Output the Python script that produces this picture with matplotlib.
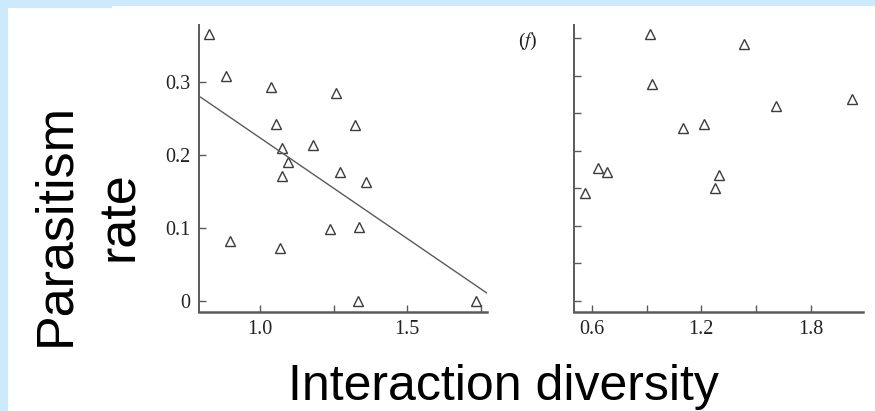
import matplotlib
matplotlib.use("Agg")
import matplotlib.pyplot as plt
from matplotlib.patches import Rectangle
import numpy as np

# panel (e): interaction diversity vs parasitism rate, with linear fit
left_x = [0.828, 0.884, 1.037, 1.259, 1.054, 1.323, 1.179, 1.075, 1.094,
          1.074, 1.272, 1.361, 0.898, 1.068, 1.238, 1.338, 1.333, 1.735]
left_y = [0.366, 0.308, 0.293, 0.285, 0.243, 0.241, 0.214, 0.210, 0.190,
          0.171, 0.177, 0.163, 0.082, 0.072, 0.098, 0.102, 0.000, 0.000]
fit_slope = -0.2755
fit_intercept = 0.499
fit_range = (0.798, 1.771)

# panel (f): no significant trend
right_x = [0.565, 0.636, 0.684, 0.919, 0.930, 1.099, 1.217, 1.277, 1.298,
           1.435, 1.610, 2.025]
right_y = [0.144, 0.177, 0.172, 0.356, 0.289, 0.231, 0.236, 0.151, 0.168,
           0.342, 0.260, 0.269]

left_xticks = [1.0, 1.25, 1.5, 1.75]
left_xticklabels = ["1.0", "", "1.5", ""]
left_yticks = [0.0, 0.1, 0.2, 0.3]
left_yticklabels = ["0", "0.1", "0.2", "0.3"]
right_xticks = [0.6, 0.9, 1.2, 1.5, 1.8]
right_xticklabels = ["0.6", "", "1.2", "", "1.8"]
right_yticks = [0.0, 0.05, 0.10, 0.15, 0.20, 0.25, 0.30, 0.35]

BG_BLUE = "#cdeafc"
AXIS_GRAY = "#5a5a5a"
MARK_GRAY = "#3c3c3c"
TICK_FONT = "Liberation Serif"
LABEL_FONT = "Liberation Sans"

plt.rcParams["mathtext.fontset"] = "stix"

fig = plt.figure(figsize=(8.75, 4.11), dpi=100)
fig.patch.set_facecolor(BG_BLUE)

# white slide area over the blue frame
fig.add_artist(Rectangle((8 / 875, 0), 1, 1 - 8 / 411, transform=fig.transFigure,
                         facecolor="white", edgecolor="none", zorder=0))
fig.add_artist(Rectangle((112 / 875, 0), 1, 1 - 6 / 411, transform=fig.transFigure,
                         facecolor="white", edgecolor="none", zorder=0))


def style_axes(ax):
    ax.set_facecolor("none")
    for side in ("top", "right"):
        ax.spines[side].set_visible(False)
    ax.spines["left"].set_color(AXIS_GRAY)
    ax.spines["left"].set_linewidth(1.4)
    ax.spines["bottom"].set_color(AXIS_GRAY)
    ax.spines["bottom"].set_linewidth(1.8)
    ax.tick_params(direction="in", length=5, width=1, color=AXIS_GRAY,
                   labelsize=14.5, labelcolor="#222222", pad=6,
                   labelfontfamily=TICK_FONT)


ax1 = fig.add_axes([199 / 875, 99 / 411, 288 / 875, 287 / 411])
ax1.plot(left_x, left_y, linestyle="none", marker="^", markersize=7,
         markerfacecolor="none", markeredgecolor=MARK_GRAY, markeredgewidth=1)
fx = np.array(fit_range)
ax1.plot(fx, fit_intercept + fit_slope * fx, color="#5a5a5a", linewidth=1)
ax1.set_xlim(0.7925, 1.772)
ax1.set_ylim(-0.015, 0.378)
ax1.set_xticks(left_xticks)
ax1.set_xticklabels(left_xticklabels)
ax1.set_yticks(left_yticks)
ax1.set_yticklabels(left_yticklabels)
style_axes(ax1)

ax2 = fig.add_axes([574 / 875, 99 / 411, 289 / 875, 287 / 411])
ax2.plot(right_x, right_y, linestyle="none", marker="^", markersize=7,
         markerfacecolor="none", markeredgecolor=MARK_GRAY, markeredgewidth=1)
ax2.set_xlim(0.503, 2.085)
ax2.set_ylim(-0.0147, 0.368)
ax2.set_xticks(right_xticks)
ax2.set_xticklabels(right_xticklabels)
ax2.set_yticks(right_yticks)
ax2.set_yticklabels([])
style_axes(ax2)

fig.text(528 / 875, 1 - 41 / 411, r"($f$)", family=TICK_FONT, fontsize=14,
         color="#222222", ha="center", va="center")

# y label in two pieces so each line can be placed on its own
fig.text(69 / 875, 1 - 225 / 411, "Parasitism", family=LABEL_FONT,
         fontsize=37.5, rotation=90, ha="center", va="baseline",
         rotation_mode="anchor")
fig.text(133 / 875, 1 - 216 / 411, "rate", family=LABEL_FONT,
         fontsize=37.5, rotation=90, ha="center", va="baseline",
         rotation_mode="anchor")
fig.text(503 / 875, 1 - 400 / 411, "Interaction diversity",
         family=LABEL_FONT, fontsize=36, ha="center", va="baseline")

fig.savefig("out.png", dpi=100, facecolor=fig.get_facecolor())
